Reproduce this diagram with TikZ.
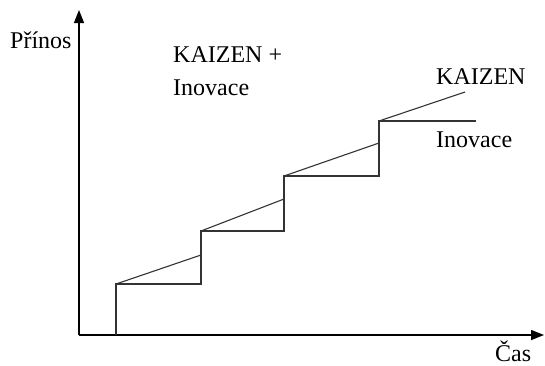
\documentclass[tikz,border=0pt]{standalone}
\usepackage{fontspec}
\setmainfont{Liberation Serif}
\usetikzlibrary{arrows.meta}
\begin{document}
\begin{tikzpicture}[x=1pt,y=-1pt,
  axis/.style={line width=1.4pt,-{Triangle[length=13pt,width=10pt]}},
  stepline/.style={line width=1.1pt,black!80},
  lbl/.style={inner sep=0pt,anchor=base west,font=\fontsize{24}{28}\selectfont}]
\useasboundingbox (0,0) rectangle (545,365);
% axes
\coordinate (O) at (79,335);
\coordinate (Ytip) at (79,10);
\coordinate (Xtip) at (544,335);
\draw[axis] (O) -- (Ytip);
\draw[axis] (O) -- (Xtip);
% step corners
\coordinate (s0) at (116,335);
\coordinate (a1) at (116,284);
\coordinate (b1) at (201,284);
\coordinate (k1) at (201,255);
\coordinate (a2) at (201,231);
\coordinate (b2) at (284,231);
\coordinate (k2) at (284,199);
\coordinate (a3) at (284,176);
\coordinate (b3) at (379,176);
\coordinate (k3) at (379,143);
\coordinate (a4) at (379,121);
\coordinate (b4) at (476,121);
\coordinate (k4) at (465,92);
% innovation steps
\draw[stepline] (s0) -- (a1) -- (b1) -- (a2) -- (b2) -- (a3) -- (b3) -- (a4) -- (b4);
% kaizen slopes
\draw[stepline] (a1) -- (k1);
\draw[stepline] (a2) -- (k2);
\draw[stepline] (a3) -- (k3);
\draw[stepline] (a4) -- (k4);
% labels
\node[lbl] (prinos) at (10,48) {Přínos};
\node[lbl] (kplus) at (173,62) {KAIZEN +};
\node[lbl] (inov1) at (173,95) {Inovace};
\node[lbl] (kaizen) at (436,84) {KAIZEN};
\node[lbl] (inov2) at (436,147) {Inovace};
\node[lbl] (cas) at (495,361) {Čas};
\end{tikzpicture}
\end{document}
